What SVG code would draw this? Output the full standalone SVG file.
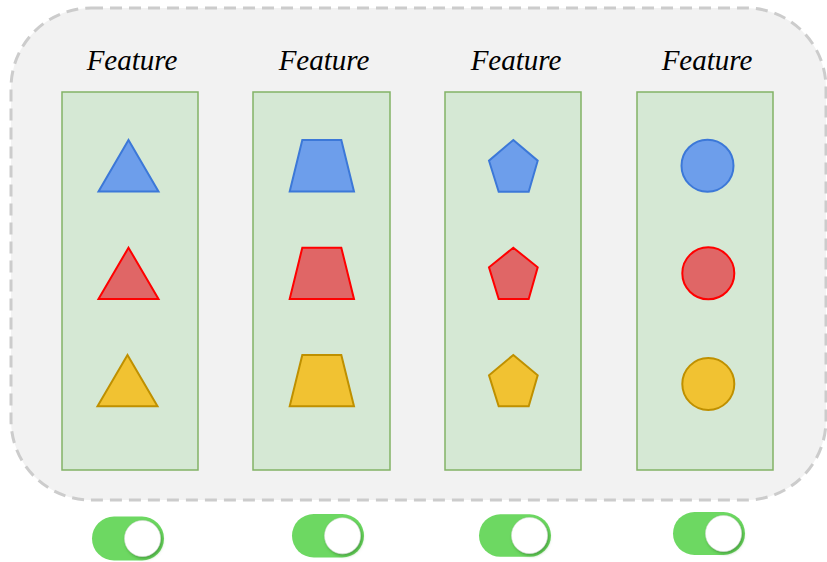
<svg xmlns="http://www.w3.org/2000/svg" width="827" height="562" viewBox="0 0 827 562">
  <defs>
    <style>
      .frame { fill: #f2f2f2; stroke: #cccccc; stroke-width: 3; stroke-dasharray: 12 7; }
      .col { fill: #d5e8d4; stroke: #82b366; stroke-width: 1.5; }
      .label { font-family: "Liberation Serif", serif; font-style: italic; font-size: 29px; fill: #000; text-anchor: middle; }
      .blue { fill: #6d9eeb; stroke: #3c78d8; stroke-width: 2; }
      .red { fill: #e06666; stroke: #ff0000; stroke-width: 2; }
      .yellow { fill: #f1c232; stroke: #bf9000; stroke-width: 2; }
      .track { fill: #6dd862; }
      .knob { fill: #ffffff; stroke: #d9d9d9; stroke-width: 0.5; filter: url(#knobShadow); }
    </style>
    <filter id="knobShadow" x="-40%" y="-40%" width="180%" height="180%">
      <feDropShadow dx="1.5" dy="2" stdDeviation="1.5" flood-color="#2a7a20" flood-opacity="0.55"/>
    </filter>
  </defs>

  <!-- dashed container -->
  <rect id="container" class="frame" x="11" y="8" width="815" height="492" rx="80" ry="80"/>

  <!-- column 1: triangles -->
  <g id="col-triangle">
    <text class="label" x="132" y="70">Feature</text>
    <rect class="col" x="62" y="92" width="136" height="378"/>
    <polygon class="blue" points="128.5,140 158.5,191.5 98.5,191.5"/>
    <polygon class="red" points="128.5,247.7 158.5,299 98.5,299"/>
    <polygon class="yellow" points="127.5,355 157.5,406.3 97.5,406.3"/>
  </g>

  <!-- column 2: trapezoids -->
  <g id="col-trapezoid">
    <text class="label" x="324" y="70">Feature</text>
    <rect class="col" x="253" y="92" width="137" height="378"/>
    <polygon class="blue" points="302.3,140 341.3,140 354,191.5 289.7,191.5"/>
    <polygon class="red" points="302.3,247.7 341.3,247.7 354,299 289.7,299"/>
    <polygon class="yellow" points="302.3,355 341.3,355 354,406.3 289.7,406.3"/>
  </g>

  <!-- column 3: pentagons -->
  <g id="col-pentagon">
    <text class="label" x="516" y="70">Feature</text>
    <rect class="col" x="445" y="92" width="136" height="378"/>
    <polygon class="blue" points="513.3,140 537.7,160.7 528.7,191.7 498.7,191.7 489,160.7"/>
    <polygon class="red" points="513.3,247.7 537.7,267.3 528.7,299 498.7,299 489,267.3"/>
    <polygon class="yellow" points="513.3,355 537.7,375.3 528.7,406.3 498.7,406.3 489,375.3"/>
  </g>

  <!-- column 4: circles -->
  <g id="col-circle">
    <text class="label" x="707" y="70">Feature</text>
    <rect class="col" x="637" y="92" width="136" height="378"/>
    <circle class="blue" cx="707.5" cy="165.7" r="26"/>
    <circle class="red" cx="708.3" cy="273.3" r="26"/>
    <circle class="yellow" cx="708.3" cy="384" r="26"/>
  </g>

  <!-- toggles -->
  <g id="toggle-1">
    <rect class="track" x="92" y="516.5" width="72" height="44" rx="22"/>
    <circle class="knob" cx="142.5" cy="538.5" r="18"/>
  </g>
  <g id="toggle-2">
    <rect class="track" x="292" y="514" width="72" height="43.5" rx="21.75"/>
    <circle class="knob" cx="342.5" cy="535.8" r="18"/>
  </g>
  <g id="toggle-3">
    <rect class="track" x="479" y="514.3" width="72" height="42.5" rx="21.25"/>
    <circle class="knob" cx="529.5" cy="535.5" r="18"/>
  </g>
  <g id="toggle-4">
    <rect class="track" x="673" y="512" width="72" height="43" rx="21.5"/>
    <circle class="knob" cx="723.5" cy="533.5" r="18"/>
  </g>

  <!-- no connectors in this diagram -->
  <g id="connectors"/>
</svg>
